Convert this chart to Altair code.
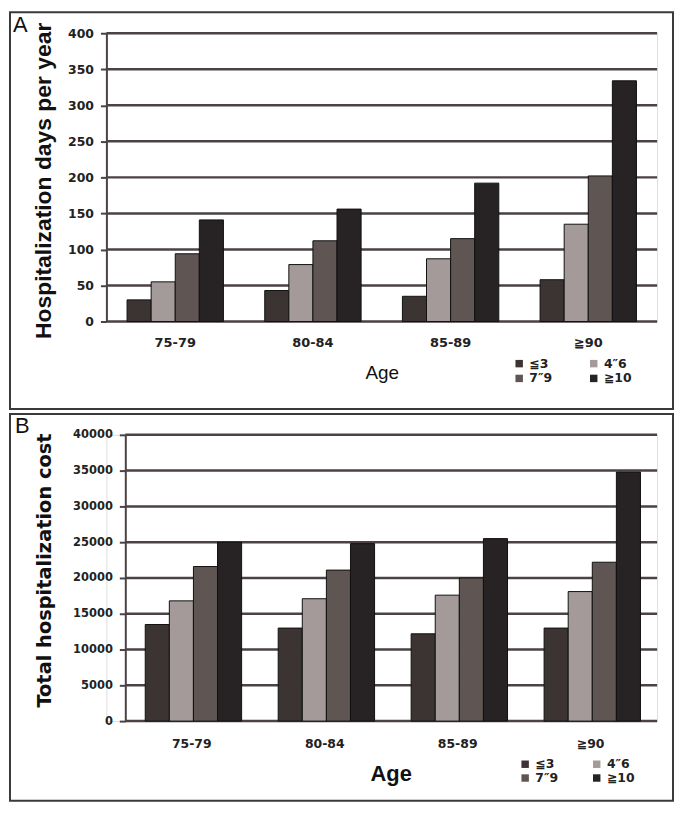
import altair as alt
import pandas as pd

ages = ["75-79", "80-84", "85-89", "≧90"]
groups = ["≦3", "4″6", "7″9", "≧10"]
# legend is filled column by column, so this order gives rows (≦3, 4″6) and (7″9, ≧10)
legend_order = ["≦3", "7″9", "4″6", "≧10"]
legend_colors = ["#3b3432", "#5f5553", "#a39a99", "#272223"]

days = {
    "≦3":  [30, 43, 35, 58],
    "4″6": [55, 79, 87, 135],
    "7″9": [94, 112, 115, 202],
    "≧10": [141, 156, 192, 334],
}
cost = {
    "≦3":  [13500, 13000, 12200, 13000],
    "4″6": [16800, 17100, 17600, 18100],
    "7″9": [21600, 21100, 20000, 22200],
    "≧10": [25000, 24800, 25500, 34800],
}
days_ticks = list(range(0, 401, 50))
cost_ticks = list(range(0, 40001, 5000))


def long(d):
    rows = []
    for g in groups:
        for a, v in zip(ages, d[g]):
            rows.append({"age": a, "grp": g, "val": v})
    return pd.DataFrame(rows)


GRID = "#4a4244"
LABEL_FONT = "DejaVu Sans"
W = 554


def panel(df, ticks, ytitle, ymax, H, x0, letter, letter_xy, border, ytitle_cfg,
          legend_xy, age_cfg, xlab_cfg, ylab_size, row_pad, col_pad):
    bx1, by1, bx2, by2 = border
    tfont, tsize, tx, ty = ytitle_cfg
    afont, asize, aweight, ay, ax = age_cfg
    xl_size, xl_pad = xlab_cfg
    yscale = alt.Scale(domain=[0, ymax], nice=False)
    yaxis = alt.Axis(title=ytitle, values=ticks, format="d", grid=False,
                     offset=-x0,
                     domain=True, domainColor=GRID, domainWidth=2,
                     ticks=True, tickColor=GRID, tickSize=6, tickWidth=2,
                     labelPadding=7, labelFont=LABEL_FONT, labelFontSize=ylab_size,
                     labelFontWeight="bold", labelColor="#222",
                     titleFont=tfont, titleFontSize=tsize,
                     titleFontWeight="bold", titleColor="#111",
                     titleX=tx, titleY=ty, titleAngle=-90,
                     titleBaseline="middle", titleAlign="center")
    grid = alt.Chart(pd.DataFrame({"val": ticks})).mark_rule(
        color=GRID, strokeWidth=2.5
    ).encode(y=alt.Y("val:Q", scale=yscale, axis=yaxis), x=alt.value(x0), x2=alt.value(W))
    bars = alt.Chart(df).mark_bar(stroke="#111111", strokeWidth=1).encode(
        x=alt.X("age:N", sort=ages,
                scale=alt.Scale(range=[x0, W], paddingInner=0.3, paddingOuter=0.15),
                axis=alt.Axis(title="Age", labelAngle=0, ticks=False, domain=False,
                              labelPadding=xl_pad, labelFont=LABEL_FONT,
                              labelFontSize=xl_size, labelFontWeight="bold", labelColor="#222",
                              titleFont=afont, titleFontSize=asize, titleFontWeight=aweight,
                              titleColor="#111", titleBaseline="middle", titleY=ay,
                              titleX=ax, titleAlign="center")),
        xOffset=alt.XOffset("grp:N", sort=groups, scale=alt.Scale(paddingInner=0, paddingOuter=0)),
        y=alt.Y("val:Q", scale=yscale, axis=yaxis),
        color=alt.Color("grp:N",
                        scale=alt.Scale(domain=legend_order, range=legend_colors),
                        legend=alt.Legend(title=None, orient="none",
                                          legendX=legend_xy[0], legendY=legend_xy[1],
                                          columns=2, columnPadding=col_pad, rowPadding=row_pad,
                                          symbolType="square", symbolSize=56,
                                          symbolStrokeWidth=0, labelFont=LABEL_FONT,
                                          labelFontSize=12.5, labelFontWeight="bold",
                                          labelColor="#222", labelOffset=4)),
    )
    frame = alt.Chart(pd.DataFrame({"k": [0]})).mark_rect(
        fillOpacity=0, stroke="#3a3a3a", strokeWidth=2
    ).encode(x=alt.value(bx1), x2=alt.value(bx2), y=alt.value(by1), y2=alt.value(by2))
    lab = alt.Chart(pd.DataFrame({"t": [letter]})).mark_text(
        font="Liberation Sans", fontSize=22, align="left", baseline="top", color="#111"
    ).encode(text="t:N", x=alt.value(letter_xy[0]), y=alt.value(letter_xy[1]))
    return alt.layer(grid, bars, frame, lab).properties(width=W, height=H)


top = panel(long(days), days_ticks, "Hospitalization days per year", 400, 290, 0,
            "A", (-94, -18), (-97, -21, 570, 378),
            ("Liberation Sans", 23, -63, 148), (409, 326),
            ("Liberation Sans", 19, "normal", 51, 277), (13, 15), 12.5, 2, 35)
bottom = panel(long(cost), cost_ticks, "Total hospitalization cost", 40000, 288, 19,
               "B", (-92, -19), (-97, -21, 570, 368),
               ("DejaVu Sans", 19.5, -81, 136), (415, 325),
               ("Liberation Sans", 22, "bold", 53, 286), (12.5, 17), 11.5, 1, 32)

chart = alt.vconcat(top, bottom, spacing=1).resolve_scale(
    color="independent"
).resolve_legend(color="independent").properties(padding=0).configure_view(
    stroke=None
).configure(background="white")

chart.save("out.html", embed_options={"renderer": "svg", "actions": False})
